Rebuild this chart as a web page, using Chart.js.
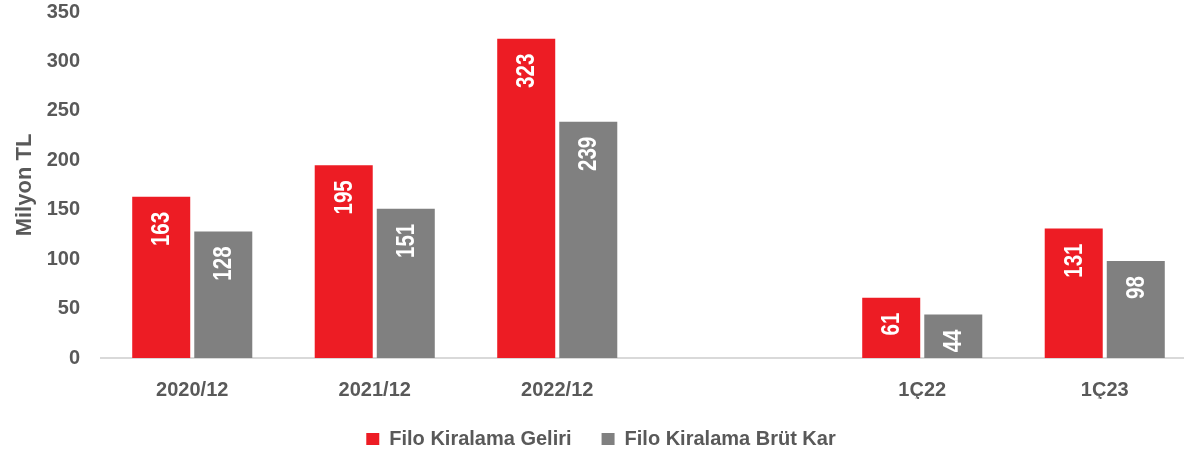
<!DOCTYPE html>
<html lang="tr">
<head>
  <meta charset="UTF-8" />
  <title>Filo Kiralama</title>
  <style>
    body { margin: 0; background: #fff; }
    #wrap { width: 1184px; height: 454px; overflow: hidden; }
    canvas { display: block; }
  </style>
</head>
<body>
  <div id="wrap">
    <canvas id="filoChart" width="1200" height="454"></canvas>
  </div>

  <script src="https://cdn.jsdelivr.net/npm/chart.js"></script>
  <script>
    // data
    const categories = ["2020/12", "2021/12", "2022/12", "", "1Ç22", "1Ç23"];
    const geliri = [163, 195, 323, null, 61, 131];
    const brutKar = [128, 151, 239, null, 44, 98];
    const yTicks = [0, 50, 100, 150, 200, 250, 300, 350];

    const FONT = "'Liberation Sans', Arial, sans-serif";
    const textGray = "#595959";

    // white vertical value labels inside the bars, near the top (narrowed a bit)
    const barLabels = {
      id: "barLabels",
      afterDatasetsDraw(chart) {
        const ctx = chart.ctx;
        chart.data.datasets.forEach((ds, i) => {
          const meta = chart.getDatasetMeta(i);
          meta.data.forEach((bar, j) => {
            const v = ds.data[j];
            if (v == null) return;
            ctx.save();
            ctx.translate(bar.x, bar.y + 15);
            ctx.rotate(-Math.PI / 2);
            ctx.scale(0.82, 1);
            ctx.font = "bold 25px " + FONT;
            ctx.fillStyle = "#ffffff";
            ctx.textAlign = "right";
            ctx.textBaseline = "middle";
            ctx.fillText(String(v), 0, 1);
            ctx.restore();
          });
        });
      }
    };

    new Chart(document.getElementById("filoChart"), {
      type: "bar",
      data: {
        labels: categories,
        datasets: [
          {
            label: "Filo Kiralama Geliri",
            data: geliri,
            backgroundColor: "#ED1C24",
            categoryPercentage: 0.68,
            barPercentage: 0.935
          },
          {
            label: "Filo Kiralama Brüt Kar",
            data: brutKar,
            backgroundColor: "#808080",
            categoryPercentage: 0.68,
            barPercentage: 0.935
          }
        ]
      },
      options: {
        responsive: false,
        animation: false,
        layout: { padding: { left: 6, right: 4, top: 0, bottom: -5 } },
        plugins: {
          tooltip: { enabled: false },
          legend: {
            position: "bottom",
            labels: {
              color: textGray,
              font: { family: FONT, size: 20, weight: "bold" },
              boxWidth: 13,
              boxHeight: 12,
              padding: 30
            }
          }
        },
        scales: {
          x: {
            afterFit(axis) {
              axis.height = 41;
            },
            grid: { display: false, drawTicks: false },
            border: { color: "#d9d9d9", width: 2 },
            ticks: {
              color: textGray,
              font: { family: FONT, size: 20, weight: "bold" },
              padding: 20
            }
          },
          y: {
            min: 0,
            max: 350,
            afterBuildTicks(axis) {
              axis.ticks = yTicks.map(v => ({ value: v }));
            },
            afterFit(axis) {
              axis.paddingTop = 12;
              axis.width = 95;
            },
            grid: { display: false, drawTicks: false },
            border: { display: false },
            ticks: {
              color: textGray,
              font: { family: FONT, size: 20, weight: "bold" },
              padding: 21
            },
            title: {
              display: true,
              text: "Milyon TL",
              color: textGray,
              font: { family: FONT, size: 22, weight: "bold" },
              padding: 6
            }
          }
        }
      },
      plugins: [barLabels]
    });
  </script>
</body>
</html>
